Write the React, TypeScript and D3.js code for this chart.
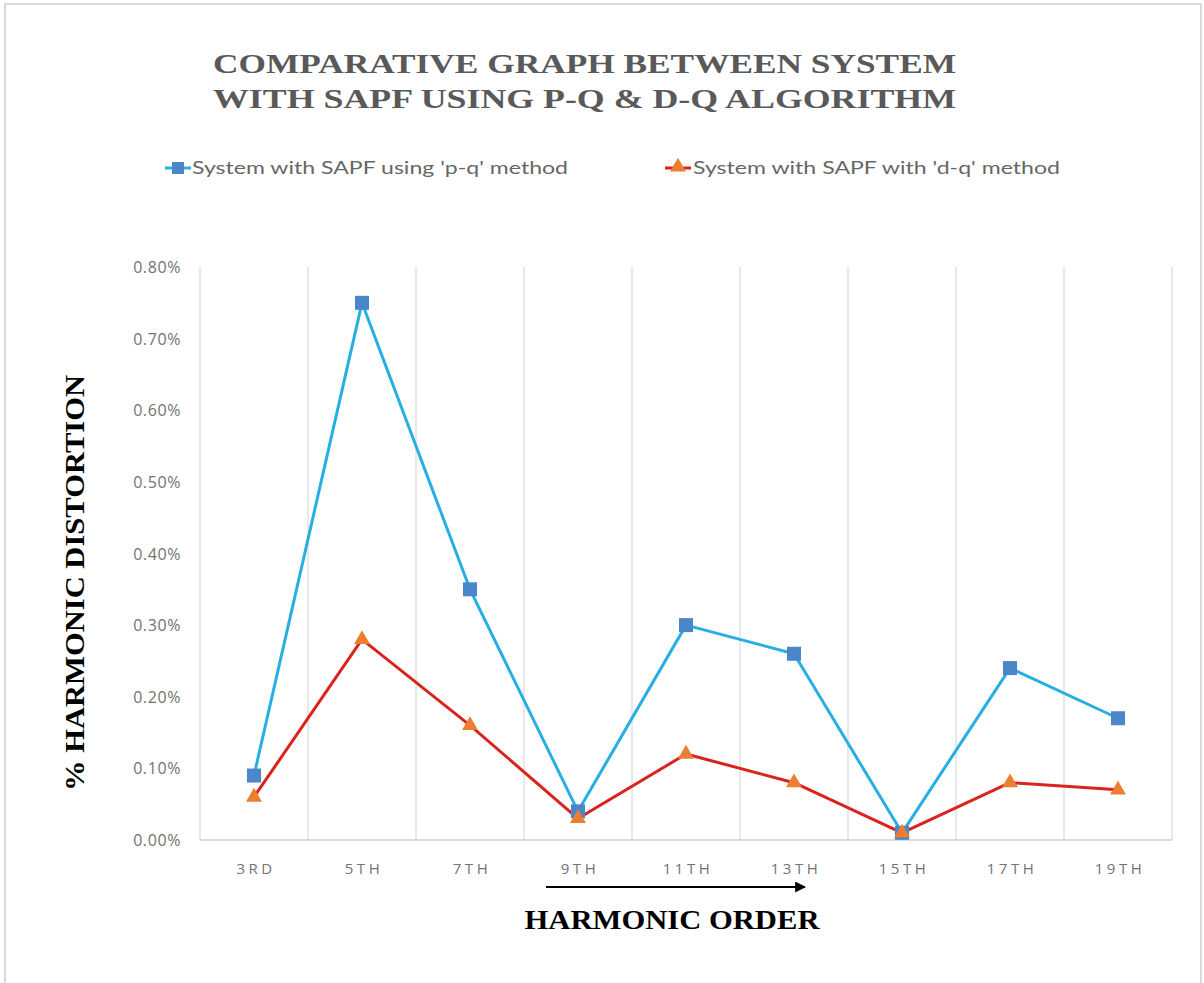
import React from "react";
import * as d3 from "d3";

// Harmonic orders on the category axis
const harmonics = ["3RD", "5TH", "7TH", "9TH", "11TH", "13TH", "15TH", "17TH", "19TH"];
// % harmonic distortion, as fractions
const pqValues = [0.0009, 0.0075, 0.0035, 0.0004, 0.003, 0.0026, 0.0001, 0.0024, 0.0017];
const dqValues = [0.0006, 0.0028, 0.0016, 0.0003, 0.0012, 0.0008, 0.0001, 0.0008, 0.0007];
const yTicks = [0, 0.001, 0.002, 0.003, 0.004, 0.005, 0.006, 0.007, 0.008];

const seriesNames = ["System with SAPF using 'p-q' method", "System with SAPF with 'd-q' method"];
const titleLines = ["COMPARATIVE GRAPH BETWEEN SYSTEM", "WITH SAPF USING P-Q & D-Q ALGORITHM"];

const W = 1204;
const H = 983;
const plot = { left: 200, right: 1172, top: 267, bottom: 840 };

const PQ_LINE = "#27aee3";
const PQ_MARK = "#4a86c8";
const DQ_LINE = "#d9231c";
const DQ_MARK = "#ed7d31";
const TICK = "#737373";

export default function App() {
  const x = d3.scaleBand<string>().domain(harmonics).range([plot.left, plot.right]).padding(0);
  const y = d3.scaleLinear().domain([0, 0.008]).range([plot.bottom, plot.top]);
  const cx = (c: string) => (x(c) as number) + x.bandwidth() / 2;
  const fmt = d3.format(".2%");

  const line = d3
    .line<number>()
    .x((_, i) => cx(harmonics[i]))
    .y((v) => y(v));

  const tri = d3.symbol().type(d3.symbolTriangle).size(110)() as string;

  const boundaries = harmonics.map((c) => x(c) as number).concat([plot.right]);

  return (
    <svg
      width={W}
      height={H}
      style={{ position: "absolute", left: 0, top: 0, background: "#fff" }}
    >
      <rect x={5} y={4} width={1196} height={995} fill="#fff" stroke="#d9d9d9" strokeWidth={2} />

      {/* title */}
      {titleLines.map((t, i) => (
        <text
          key={t}
          x={213}
          y={73 + i * 35}
          textLength={743}
          lengthAdjust="spacingAndGlyphs"
          fontFamily="Liberation Serif, serif"
          fontWeight="bold"
          fontSize={28}
          fill="#595959"
        >
          {t}
        </text>
      ))}

      {/* legend */}
      <g>
        <line x1={165} x2={191} y1={168} y2={168} stroke={PQ_LINE} strokeWidth={3} />
        <rect x={172} y={162} width={12} height={12} fill={PQ_MARK} />
        <text x={192} y={174} fontFamily="Lato, sans-serif" fontSize={17} fill="#666" textLength={376} lengthAdjust="spacingAndGlyphs">
          {seriesNames[0]}
        </text>
        <line x1={665} x2={691} y1={168} y2={168} stroke={DQ_LINE} strokeWidth={3} />
        <path d={tri} transform="translate(678,167)" fill={DQ_MARK} />
        <text x={693} y={174} fontFamily="Lato, sans-serif" fontSize={17} fill="#666" textLength={367} lengthAdjust="spacingAndGlyphs">
          {seriesNames[1]}
        </text>
      </g>

      {/* vertical gridlines at category boundaries */}
      {boundaries.map((bx, i) => (
        <line key={i} x1={bx} x2={bx} y1={plot.top} y2={plot.bottom} stroke="#d9d9d9" strokeWidth={1.2} />
      ))}
      <line x1={plot.left} x2={plot.right} y1={plot.bottom} y2={plot.bottom} stroke="#d0d0d0" strokeWidth={1.5} />

      {/* y tick labels */}
      {yTicks.map((t) => (
        <text
          key={t}
          x={181}
          y={y(t) + 6}
          textAnchor="end"
          fontFamily="Open Sans, sans-serif"
          fontSize={16}
          letterSpacing={0.6}
          fill={TICK}
        >
          {fmt(t)}
        </text>
      ))}

      {/* x tick labels */}
      {harmonics.map((c) => (
        <text
          key={c}
          x={cx(c) + 2}
          y={874}
          textAnchor="middle"
          fontFamily="Open Sans, sans-serif"
          fontSize={15}
          letterSpacing={3.5}
          fill={TICK}
        >
          {c}
        </text>
      ))}

      {/* series lines */}
      <path d={line(pqValues) as string} fill="none" stroke={PQ_LINE} strokeWidth={3} strokeLinejoin="round" />
      <path d={line(dqValues) as string} fill="none" stroke={DQ_LINE} strokeWidth={3} strokeLinejoin="round" />

      {/* markers */}
      {pqValues.map((v, i) => (
        <rect key={"p" + i} x={cx(harmonics[i]) - 7} y={y(v) - 7} width={14} height={14} fill={PQ_MARK} />
      ))}
      {dqValues.map((v, i) => (
        <path key={"d" + i} d={tri} transform={`translate(${cx(harmonics[i])},${y(v)})`} fill={DQ_MARK} />
      ))}

      {/* axis titles */}
      <text
        transform="translate(84,583) rotate(-90)"
        textAnchor="middle"
        fontFamily="Liberation Serif, serif"
        fontWeight="bold"
        fontSize={28}
        fill="#000"
        textLength={416}
        lengthAdjust="spacingAndGlyphs"
      >
        % HARMONIC DISTORTION
      </text>

      <defs>
        <marker id="arrowHead" viewBox="0 0 10 10" refX={9} refY={5} markerWidth={5} markerHeight={5} orient="auto">
          <path d="M0,0 L10,5 L0,10 z" fill="#000" />
        </marker>
      </defs>
      <line x1={546} x2={805} y1={887} y2={887} stroke="#000" strokeWidth={2.2} markerEnd="url(#arrowHead)" />

      <text
        x={672}
        y={929}
        textAnchor="middle"
        fontFamily="Liberation Serif, serif"
        fontWeight="bold"
        fontSize={28}
        fill="#000"
        textLength={295}
        lengthAdjust="spacingAndGlyphs"
      >
        HARMONIC ORDER
      </text>
    </svg>
  );
}
